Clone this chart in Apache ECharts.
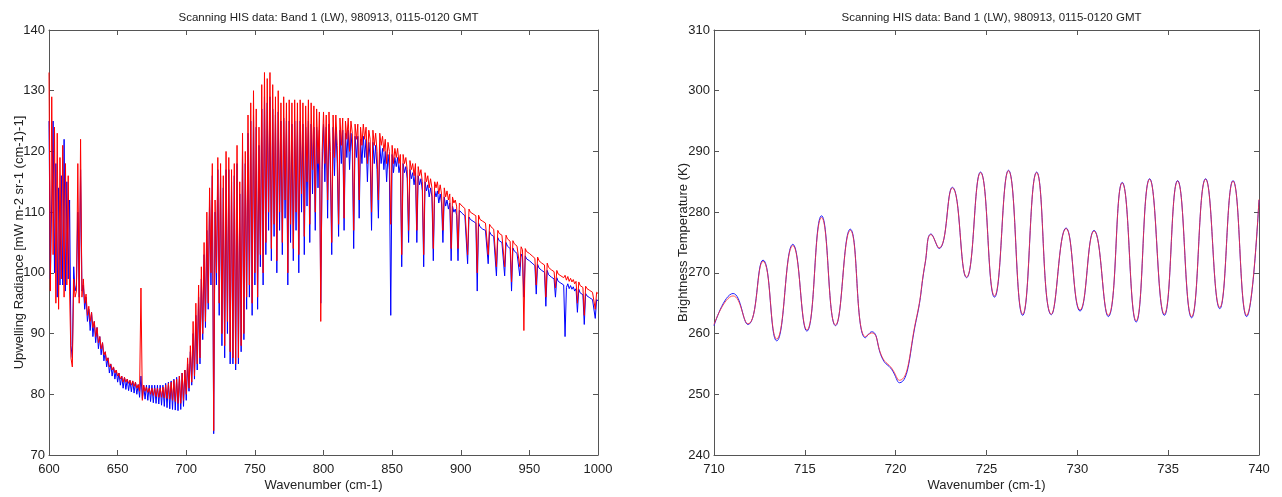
<!DOCTYPE html>
<html>
<head>
<meta charset="utf-8">
<script src="https://cdn.jsdelivr.net/npm/echarts@6/dist/echarts.min.js"></script>
<style>html,body{margin:0;padding:0;background:#fff}#c{width:1282px;height:497px}</style>
</head>
<body>
<div id="c"></div>
<script>
// ---------- DATA ----------
const titleText = 'Scanning HIS data: Band 1 (LW), 980913, 0115-0120 GMT';
const xName = 'Wavenumber (cm-1)';
const yNameLeft = 'Upwelling Radiance [mW m-2 sr-1 (cm-1)-1]';
const yNameRight = 'Brightness Temperature (K)';

// left panel: radiance sampled every 1 cm-1 from 600 to 1000
const radStart = 600;
const radStep = 1;
const radianceRed = [
133.0,97,129,103,124,95,123,94,119,99,
121,96,118,98,116,97,86,84.5,99,96,
97,118,95,122,96,99,95,96.5,93,94.5,
92,93.5,91,92,89.5,91,88.5,89.5,87.5,88.5,
86.5,87,85.5,86,84.5,85,84,84.5,83.5,84,
83,83.5,82.5,83,82,82.8,82,82.5,81.8,82.3,
81.5,82.2,81.3,82,81,81.6,80.5,97.5,79,81.5,
80.5,81.2,80.3,81,80,81,79.8,81,79.6,81,
79.5,81,79.5,81.2,79.4,81.5,79.3,81.8,79.2,82,
79,82.3,78.8,82.5,78.5,83,78.5,83.5,79,84,
80,86,81,88,82,92,83,95,85,98,
86,101,90,105,92,110,95,114,100,118,
74,112,100,119,95,118,90,116,88,120,
92,119,87,117,86,118,85,121,86,115,
88,123,90,120,96,126,98,128,95,130,
100,127,96,124,103,131,100,133,105,132,
110,133,104,131,108,129,102,130,110,128,
105,129,112,128,100,128.5,108,128,104,128.5,
110,128,103,128.5,113,128,106,127.5,115,128.5,
108,128,117,127.5,110,127,118,126.5,92,120,
126.5,118,126,112,126.5,120,105,126,119,126,
121,108,125.5,121,125.5,109,125,122,125.5,120,
125,123,107,124.5,122,124.5,112,124,121,124.5,
122,124,118,123.5,122,110,123.5,121,123,120,
112,123,121,122.5,120,122,118,121.5,120,108,
121,118,120.5,119,120.5,118,119.5,103,119.5,118,
119,117,107,118.5,117,118,116,118,107,117.5,
116,117,115,103,116.5,115,116,114,115.5,114,
104,115,114,115,113,114.5,113,107,114,112.5,
113.5,112,113,104,112.5,111.5,112,111,104,111.5,
111.5,111,111.2,110.6,110.8,103,110.5,110,110.3,109.7,
110,109.4,100,109.5,108.8,109,108.5,108.8,108.2,108.4,
103,108,107.6,107.8,107.2,107.4,101,107,106.5,106.8,
106.2,106.5,101,106.2,105.6,105.8,105.2,98.5,105.3,104.8,
105,104.4,104.6,101,104.3,103.8,90.5,104,103.5,103.8,
103.2,103.5,102.8,103,102.4,98,102.6,102,102.3,101.6,
101.9,101.3,96,101.6,100.9,101.2,100.5,100.8,100.2,97.5,
100.4,99.8,100.1,99.5,99.8,99.2,99.6,98.8,99.4,98.6,
99.1,98.5,98.9,98.2,98.6,95,98.5,97.9,98.2,97.6,
93,97.8,97.4,97.6,97.1,97.3,96.8,97.1,94,96.8,
96.6
];
const radianceBlue = [
125,99,112,125,100,118,96,114,98,116,
98,122,97,115,99,112,88,86,101,97,
98,110,96,117,97,98,94,96,92,94,
90.5,93.5,89.5,92,88.5,91,87.5,89.5,86.5,88.5,
85.5,87,84.5,86,83.5,85,83,84.5,82.5,84,
82,83.5,81.5,83,81,82.8,80.8,82.5,80.6,82.3,
80.4,82.2,80.2,82,80,81.6,79.5,83,79.3,81.5,
79.2,81.5,79,81.5,78.8,81.5,78.6,81.5,78.5,81.5,
78.4,81.5,78.2,81.5,78,81.8,77.8,82,77.6,82.2,
77.5,82.5,77.4,82.8,77.3,83,77.5,83.5,78,84,
79,85,80.5,87,81.5,90,82.5,93,84,96,
85,99,89,103,91,107,94,112,98,116,
73.5,110,98,117,93,116,88,114,86,117,
90,117,85,115,85,116,84,118,85,113,
87,120,89,118,94,123,96,125,93,126,
98,124,94,121,101,127,98,129,103,128,
107,129,102,127,106,126,100,126.5,107,125,
103,125.5,109,125,98,125,105,124.5,102,125,
107,125,100,125,110,124.5,103,124,111,125,
105,124.5,113,124,107,124,114,123.5,95,117,
124.5,115,124,109,124.5,117,103,124,116,124,
118,106,123.5,118,123.5,107,123,119,123.5,117,
123,120,104,122.5,119,122.5,109,122,118,122.5,
119,122,115,121.5,119,107,121.5,118,121,117,
109,121,118,120.5,117,120,115,119.5,117,93,
119.5,116.5,119,117.5,119,116.5,118,101,118,116.5,
117.5,115.5,105,117,115.5,116.5,114.5,116.5,105,116,
114.5,115.5,113.5,101,115,113.5,114.5,112.5,114,112.5,
102,113.5,112.5,113.5,111.5,113,111.5,105,112.5,111,
112,110.5,111.5,102,111,110,110.5,109.5,102,110.3,
110.2,109.8,110,109.4,109.6,101.5,109.2,108.8,109,108.5,
108.7,108.2,97,108.2,107.6,107.8,107.2,107.5,107,107.2,
101.5,106.8,106.3,106.6,106,106.2,99.5,105.8,105.3,105.6,
105,105.3,99.5,105,104.4,104.6,104,97,104.1,103.6,
103.8,103.2,103.4,99.5,103.1,102.6,96,102.8,102.3,102.6,
102,102.3,101.6,101.8,101.2,96.5,101.4,100.8,101.1,100.4,
100.7,100.1,94.5,100.4,99.7,100,99.3,99.6,99,96,
99.2,98.6,98.9,98.3,98.6,98,89.5,97.6,98.2,97.4,
97.9,97.3,97.7,97,97.4,93.5,97.3,96.7,97,96.4,
91.5,96.6,96.2,96.4,95.9,96.1,95.6,95.9,92.5,95.6,
95.4
];

// right panel: brightness temperature (peaks / troughs)
const wnBT = [710,711.05,711.87,712.70,713.45,714.34,715.11,715.92,716.69,717.50,
718.33,718.68,719.30,719.78,720.20,721.13,721.62,721.95,722.39,723.12,
723.90,724.67,725.44,726.21,726.99,727.76,728.57,729.38,730.15,730.92,
731.70,732.47,733.24,733.98,734.79,735.52,736.29,737.06,737.84,738.57,
739.32,740];
const btRed = [261.5,266.2,261.6,271.9,259.1,274.5,260.6,279.1,261.4,277.0,
259.5,260.1,255.9,254.3,252.3,262.4,271.6,276.3,274.1,284.0,
269.3,286.5,266.2,286.8,263.2,286.5,263.2,277.3,263.9,276.9,
263.0,284.8,262.1,285.4,263.2,285.1,262.8,285.4,264.3,285.1,
263.0,282.1];
const btBlue = [261.3,266.6,261.5,272.1,258.8,274.7,260.4,279.4,261.3,277.2,
259.3,260.3,255.7,254.1,251.9,262.2,271.5,276.4,274.0,284.1,
269.2,286.6,266.0,286.9,263.0,286.6,263.1,277.4,263.7,277.0,
262.8,284.9,261.9,285.5,263.0,285.2,262.6,285.5,264.1,285.2,
262.8,282.0];

// ---------- CHART ----------
const F = 'Liberation Sans, Arial, Helvetica, sans-serif';
const axisColor = '#555';
const txt = '#222';

function pairs(xs, ys){ return ys.map((y,i)=>[xs[i], y]); }
const radX = radianceRed.map((_, i) => radStart + i*radStep);

function xAx(grid, min, max, interval, pos, show){
  return {type:'value', gridIndex:grid, min, max, interval, position:pos,
    name: show ? xName : '', nameLocation:'middle', nameGap:24, nameMoveOverlap:false,
    nameTextStyle:{color:txt, fontFamily:F, fontSize:13},
    axisLine:{show:true, onZero:false, lineStyle:{color:axisColor, width:1}},
    axisTick:{show:true, inside:true, length:5, lineStyle:{color:axisColor}},
    axisLabel:{show:show, color:txt, fontFamily:F, fontSize:13, margin:8,
      formatter: v => String(v)},
    splitLine:{show:false}};
}
function yAx(grid, min, max, interval, pos, show, name, gap){
  return {type:'value', gridIndex:grid, min, max, interval, position:pos,
    name: show ? name : '', nameLocation:'middle', nameGap:gap, nameMoveOverlap:false,
    nameTextStyle:{color:txt, fontFamily:F, fontSize:13},
    axisLine:{show:true, onZero:false, lineStyle:{color:axisColor, width:1}},
    axisTick:{show:true, inside:true, length:5, lineStyle:{color:axisColor}},
    axisLabel:{show:show, color:txt, fontFamily:F, fontSize:13, margin:4},
    splitLine:{show:false}};
}

const chart = echarts.init(document.getElementById('c'), null, {renderer:'canvas'});
chart.setOption({
  animation:false,
  backgroundColor:'#fff',
  title:[
    {text:titleText, left:323.5, top:7, textAlign:'center',
     textStyle:{fontFamily:F, fontSize:11.5, fontWeight:'normal', color:txt}},
    {text:titleText, left:986.5, top:7, textAlign:'center',
     textStyle:{fontFamily:F, fontSize:11.5, fontWeight:'normal', color:txt}}
  ],
  grid:[
    {left:49, top:30, width:549, height:431, containLabel:false},
    {left:714, top:30, width:545, height:431, containLabel:false}
  ],
  xAxis:[
    xAx(0, 600, 1000, 50, 'bottom', true),
    xAx(0, 600, 1000, 50, 'top', false),
    xAx(1, 710, 740, 5, 'bottom', true),
    xAx(1, 710, 740, 5, 'top', false)
  ],
  yAxis:[
    yAx(0, 70, 140, 10, 'left', true, yNameLeft, 23),
    yAx(0, 70, 140, 10, 'right', false, '', 0),
    yAx(1, 240, 310, 10, 'left', true, yNameRight, 24),
    yAx(1, 240, 310, 10, 'right', false, '', 0)
  ],
  series:[
    {type:'line', xAxisIndex:0, yAxisIndex:0, data:pairs(radX, radianceBlue),
     showSymbol:false, lineStyle:{color:'#0000ff', width:1}, clip:true},
    {type:'line', xAxisIndex:0, yAxisIndex:0, data:pairs(radX, radianceRed),
     showSymbol:false, lineStyle:{color:'#ff0000', width:1}, clip:true},
    {type:'line', xAxisIndex:2, yAxisIndex:2, data:pairs(wnBT, btBlue),
     showSymbol:false, smooth:0.5, lineStyle:{color:'#2020ff', width:1}, clip:true},
    {type:'line', xAxisIndex:2, yAxisIndex:2, data:pairs(wnBT, btRed),
     showSymbol:false, smooth:0.5, lineStyle:{color:'#ff3030', width:1, opacity:0.8}, clip:true}
  ]
});
</script>
</body>
</html>
